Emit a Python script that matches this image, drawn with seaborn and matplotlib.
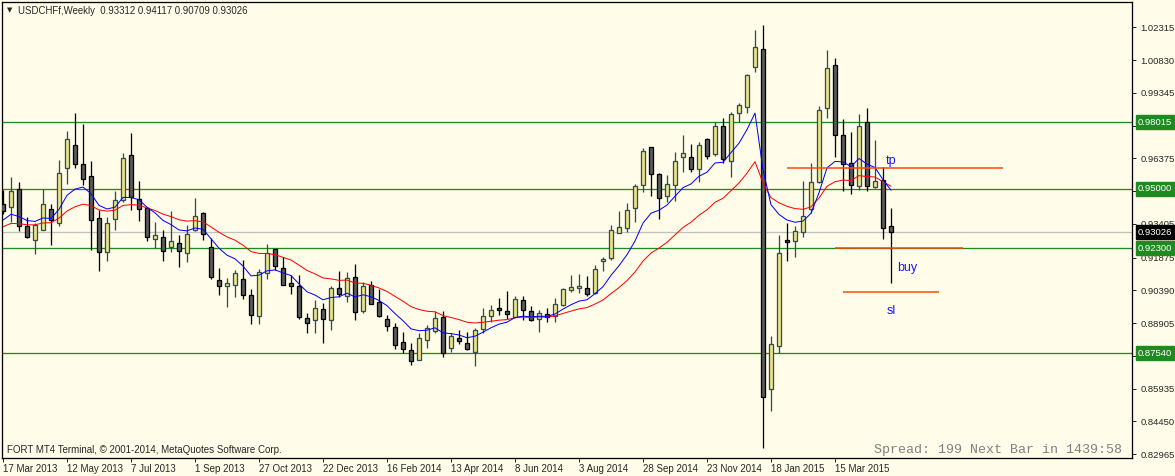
import matplotlib
matplotlib.use("Agg")
import matplotlib.pyplot as plt
import matplotlib.transforms as mtransforms
import numpy as np
import pandas as pd
import seaborn as sns

# weekly USDCHF bars, 17 Mar 2013 .. 3 May 2015
opens = [
    0.9431, 0.9419, 0.9498, 0.9331, 0.9266, 0.9312, 0.9408, 0.9346, 0.9593, 0.9699,
    0.9611, 0.9557, 0.9368, 0.9212, 0.9362, 0.9449, 0.9652, 0.9453, 0.9411, 0.9274,
    0.9283, 0.9238, 0.9256, 0.9207, 0.9314, 0.9389, 0.9235, 0.9086, 0.9059, 0.9062,
    0.9090, 0.9017, 0.8922, 0.9118, 0.9226, 0.9140, 0.9072, 0.9059, 0.8912, 0.8903,
    0.8953, 0.8903, 0.9049, 0.9012, 0.9099, 0.8945, 0.9063, 0.8985, 0.8910, 0.8872,
    0.8804, 0.8768, 0.8722, 0.8813, 0.8854, 0.8917, 0.8776, 0.8822, 0.8799, 0.8761,
    0.8863, 0.8922, 0.8958, 0.8944, 0.8920, 0.8994, 0.8947, 0.8908, 0.8930, 0.8922,
    0.8973, 0.9040, 0.9052, 0.9050, 0.9026, 0.9171, 0.9185, 0.9298, 0.9321, 0.9411,
    0.9516, 0.9688, 0.9566, 0.9466, 0.9516, 0.9643, 0.9643, 0.9589, 0.9726, 0.9657,
    0.9784, 0.9625, 0.9842, 0.9870, 1.0054, 1.0133, 0.8591, 0.8786, 0.9268, 0.9262,
    0.9303, 0.9408, 0.9529, 0.9865, 1.0060, 0.9742, 0.9616, 0.9511, 0.9802, 0.9507,
    0.9539, 0.93312,
]
highs = [
    0.9495, 0.9553, 0.9531, 0.9371, 0.9344, 0.9500, 0.9431, 0.9631, 0.9760, 0.9842,
    0.9794, 0.9626, 0.9402, 0.9372, 0.9489, 0.9662, 0.9751, 0.9535, 0.9416, 0.9349,
    0.9313, 0.9398, 0.9289, 0.9334, 0.9457, 0.9393, 0.9278, 0.9141, 0.9096, 0.9131,
    0.9176, 0.9045, 0.9138, 0.9248, 0.9228, 0.9189, 0.9110, 0.9109, 0.8935, 0.8996,
    0.8981, 0.9059, 0.9127, 0.9121, 0.9158, 0.9079, 0.9081, 0.9045, 0.8926, 0.8890,
    0.8849, 0.8799, 0.8845, 0.8881, 0.8944, 0.8944, 0.8845, 0.8860, 0.8849, 0.8870,
    0.8958, 0.8972, 0.9006, 0.9036, 0.9014, 0.9014, 0.8968, 0.8950, 0.8958, 0.9003,
    0.9052, 0.9109, 0.9114, 0.9104, 0.9153, 0.9189, 0.9336, 0.9399, 0.9435, 0.9520,
    0.9685, 0.9688, 0.9570, 0.9563, 0.9667, 0.9743, 0.9702, 0.9712, 0.9730, 0.9802,
    0.9820, 0.9850, 0.9888, 1.0021, 1.0220, 1.0243, 0.8833, 0.9290, 0.9344, 0.9333,
    0.9535, 0.9615, 0.9875, 1.0129, 1.0093, 0.9816, 0.9758, 0.9838, 0.9865, 0.9720,
    0.9597, 0.94117,
]
lows = [
    0.9386, 0.9349, 0.9310, 0.9278, 0.9206, 0.9312, 0.9246, 0.9333, 0.9520, 0.9593,
    0.9518, 0.9224, 0.9129, 0.9174, 0.9312, 0.9439, 0.9405, 0.9355, 0.9261, 0.9230,
    0.9174, 0.9215, 0.9147, 0.9169, 0.9310, 0.9268, 0.9090, 0.9020, 0.8965, 0.9011,
    0.9001, 0.8888, 0.8888, 0.9090, 0.9131, 0.9064, 0.9022, 0.8911, 0.8845, 0.8845,
    0.8799, 0.8859, 0.9011, 0.8985, 0.8904, 0.8935, 0.8976, 0.8917, 0.8854, 0.8772,
    0.8754, 0.8700, 0.8722, 0.8778, 0.8844, 0.8739, 0.8759, 0.8796, 0.8769, 0.8698,
    0.8848, 0.8896, 0.8928, 0.8911, 0.8917, 0.8905, 0.8899, 0.8852, 0.8896, 0.8896,
    0.8970, 0.9033, 0.9029, 0.9015, 0.9021, 0.9129, 0.9177, 0.9298, 0.9302, 0.9351,
    0.9486, 0.9469, 0.9362, 0.9439, 0.9443, 0.9578, 0.9575, 0.9529, 0.9637, 0.9648,
    0.9618, 0.9552, 0.9804, 0.9842, 1.0031, 0.8326, 0.8494, 0.8757, 0.9174, 0.9192,
    0.9283, 0.9389, 0.9525, 0.9822, 0.9643, 0.9491, 0.9478, 0.9494, 0.9491, 0.9502,
    0.9274, 0.90709,
]
closes = [
    0.9399, 0.9490, 0.9333, 0.9283, 0.9336, 0.9430, 0.9357, 0.9572, 0.9724, 0.9611,
    0.9546, 0.9357, 0.9212, 0.9344, 0.9448, 0.9638, 0.9461, 0.9407, 0.9282, 0.9289,
    0.9219, 0.9261, 0.9216, 0.9293, 0.9375, 0.9293, 0.9101, 0.9059, 0.9072, 0.9117,
    0.9017, 0.8927, 0.9121, 0.9207, 0.9149, 0.9064, 0.9059, 0.8917, 0.8890, 0.8958,
    0.8911, 0.9049, 0.9021, 0.9094, 0.8940, 0.9058, 0.8976, 0.8925, 0.8876, 0.8790,
    0.8772, 0.8718, 0.8822, 0.8868, 0.8913, 0.8754, 0.8831, 0.8811, 0.8775, 0.8859,
    0.8923, 0.8949, 0.8952, 0.8931, 0.8999, 0.8949, 0.8903, 0.8935, 0.8917, 0.8976,
    0.9044, 0.9053, 0.9056, 0.9021, 0.9136, 0.9182, 0.9313, 0.9325, 0.9402, 0.9511,
    0.9670, 0.9568, 0.9457, 0.9520, 0.9625, 0.9661, 0.9589, 0.9697, 0.9648, 0.9784,
    0.9634, 0.9838, 0.9879, 1.0015, 1.0142, 0.8557, 0.8795, 0.9207, 0.9257, 0.9307,
    0.9375, 0.9529, 0.9856, 1.0046, 0.9742, 0.9611, 0.9516, 0.9784, 0.9511, 0.9534,
    0.9321, 0.93026,
]

date_labels = [
    "17 Mar 2013", "12 May 2013", "7 Jul 2013", "1 Sep 2013", "27 Oct 2013",
    "22 Dec 2013", "16 Feb 2014", "13 Apr 2014", "8 Jun 2014", "3 Aug 2014",
    "28 Sep 2014", "23 Nov 2014", "18 Jan 2015", "15 Mar 2015",
]
# scale labels; the ones sitting under the level boxes are covered in the original
price_ticks = [1.02315, 1.00830, 0.99345, 0.97860, 0.96375, 0.94890, 0.93405,
               0.91875, 0.90390, 0.88905, 0.87420, 0.85935, 0.84450, 0.82965]
covered_ticks = [0.97860, 0.94890, 0.87420]

levels = [0.98015, 0.95000, 0.92300, 0.87540]
last_price = 0.93026

# moving averages (fast / slow EMA), seeded with the levels shown at the first bar
fast_span, fast_seed = 9, 0.9358
slow_span, slow_seed = 21, 0.9328

# trade markers: (label, price of line, bar from, bar to)
trade_lines = [("tp", 0.9593, 98, 125), ("buy", 0.9230, 104, 120), ("sl", 0.9032, 105, 117)]
trade_text = [("tp", 110.4, 0.9614), ("buy", 111.8, 0.9129), ("sl", 110.5, 0.8931)]

BG = "#fffde9"
GREEN = "#1f8a1f"
PX = 0.72  # one pixel in points at dpi 100


def ema(values, span, seed):
    alpha = 2.0 / (span + 1)
    out = [seed]
    for v in values[1:]:
        out.append(out[-1] + alpha * (v - out[-1]))
    return out


sns.set_style("white")
plt.rcParams["font.family"] = ["Liberation Sans", "DejaVu Sans"]

df = pd.DataFrame({"open": opens, "high": highs, "low": lows, "close": closes})
df["bar"] = np.arange(len(df))
df["fast"] = ema(closes, fast_span, fast_seed)
df["slow"] = ema(closes, slow_span, slow_seed)
bull = df["close"] >= df["open"]

fig = plt.figure(figsize=(11.75, 4.76), dpi=100, facecolor=BG)
ax = fig.add_axes([2 / 1175, 18 / 476, 1130 / 1175, 456 / 476])
ax.set_facecolor(BG)

# horizontal levels
for lv in levels:
    ax.axhline(lv, color=GREEN, lw=1.3 * PX, zorder=1)
ax.axhline(last_price, color="#c0c0c0", lw=1.3 * PX, zorder=1)

# candles
wick_col = np.where(bull, "#2f4f4f", "#000000")
ax.vlines(df["bar"], df["low"], df["high"], colors=wick_col, lw=1.3 * PX, zorder=2)
body_low = df[["open", "close"]].min(axis=1)
body_h = (df["close"] - df["open"]).abs().clip(lower=0.0006)
ax.bar(df["bar"][bull], body_h[bull], bottom=body_low[bull], width=0.5,
       color="#f0e68c", edgecolor="#2f4f4f", linewidth=1.3 * PX, zorder=3)
ax.bar(df["bar"][~bull], body_h[~bull], bottom=body_low[~bull], width=0.5,
       color="#5c5c5c", edgecolor="#000000", linewidth=1.3 * PX, zorder=3)

# moving averages
sns.lineplot(data=df, x="bar", y="slow", ax=ax, color="#ff0000", lw=1.0 * PX, zorder=4)
sns.lineplot(data=df, x="bar", y="fast", ax=ax, color="#0000ff", lw=1.0 * PX, zorder=4)

# trade lines and labels
for name, price, x0, x1 in trade_lines:
    ax.hlines(price, x0, x1, color="#ff4500", lw=1.5 * PX, zorder=4)
for name, x, y in trade_text:
    ax.text(x, y, name, color="#1a1aff", fontsize=9, ha="left", va="baseline", zorder=5)

ax.set_xlim(-0.125, 141.125)
ax.set_ylim(0.8279, 1.0347)
ax.set_xlabel("")
ax.set_ylabel("")

ax.set_xticks(np.arange(0, len(df), 8))
ax.set_xticklabels(date_labels, ha="left")
ax.yaxis.tick_right()
ax.set_yticks(price_ticks)
ax.set_yticklabels(["" if p in covered_ticks else f"{p:.5f}" for p in price_ticks])
ax.tick_params(axis="x", length=3, width=PX, pad=1.5, labelsize=7, direction="out",
               bottom=True)
ax.tick_params(axis="y", length=3, width=PX, pad=3, labelsize=6.8, direction="out",
               right=True, left=False)
for sp in ax.spines.values():
    sp.set_color("black")
    sp.set_linewidth(1.3 * PX)

# price boxes on the right scale
trans = mtransforms.blended_transform_factory(ax.transAxes, ax.transData)
for lv in levels:
    ax.text(1.0 + 6 / 1130, lv, f"{lv:.5f}", transform=trans, color="white", fontsize=6.8,
            ha="left", va="center", clip_on=False, zorder=6,
            bbox=dict(boxstyle="square,pad=0.25", fc=GREEN, ec=GREEN))
ax.text(1.0 + 6 / 1130, last_price, f"{last_price:.5f}", transform=trans, color="white",
        fontsize=6.8, ha="left", va="center", clip_on=False, zorder=6,
        bbox=dict(boxstyle="square,pad=0.25", fc="black", ec="black"))

# header and footer texts
fig.text(7 / 1175, 1 - 10 / 476, "\u25bc", fontsize=5, ha="left", va="center",
         family=["DejaVu Sans"])
fig.text(18 / 1175, 1 - 10.5 / 476,
         "USDCHFf,Weekly  " + " ".join(["0.93312", "0.94117", "0.90709", "0.93026"]),
         fontsize=6.9, ha="left", va="center")
fig.text(7 / 1175, 1 - 450 / 476,
         "FORT MT4 Terminal, \u00a9 2001-2014, MetaQuotes Software Corp.",
         fontsize=7, ha="left", va="center")
fig.text(1122 / 1175, 1 - 450 / 476, "Spread: 199 Next Bar in 1439:58",
         fontsize=9.6, ha="right", va="center", color="#808080",
         family=["Liberation Mono", "DejaVu Sans Mono"])

fig.savefig("out.png", dpi=100, facecolor=BG)
plt.close(fig)
